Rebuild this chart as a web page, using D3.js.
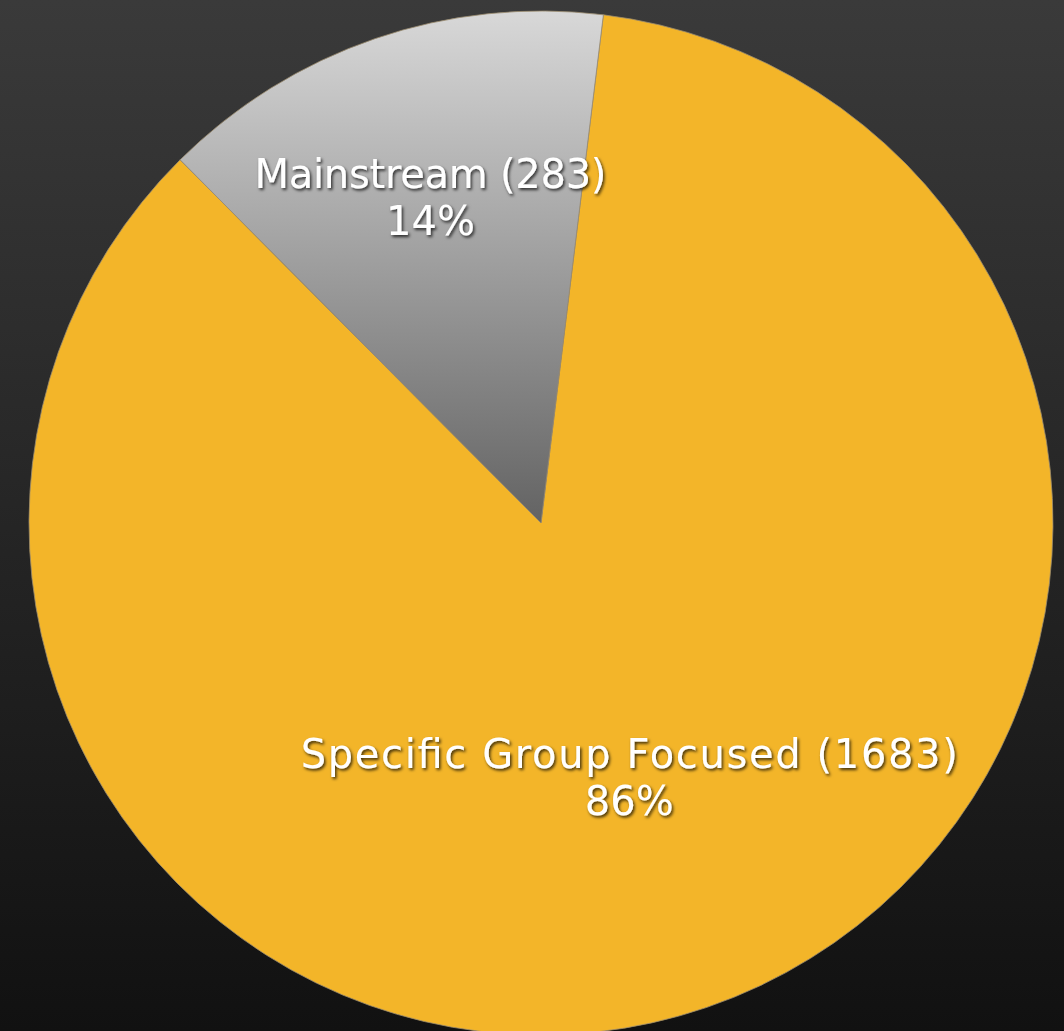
<!DOCTYPE html>
<html>
<head>
<meta charset="utf-8">
<script src="https://cdn.jsdelivr.net/npm/d3@7"></script>
<style>
  html, body { margin: 0; padding: 0; background: #111; overflow: hidden; }
  svg { display: block; }
</style>
</head>
<body>
<svg id="chart" width="1064" height="1031"></svg>
<script>
// Audience split of the titles
const categories = ["Specific Group Focused", "Mainstream"];
const counts = [1683, 283];
const percentLabels = ["86%", "14%"];

const W = 1064, H = 1031;
const cx = 541, cy = 523, radius = 512;

const svg = d3.select("#chart");
const defs = svg.append("defs");

// background: dark vertical gradient
const bg = defs.append("linearGradient").attr("id", "bg")
  .attr("x1", 0).attr("y1", 0).attr("x2", 0).attr("y2", 1);
bg.append("stop").attr("offset", 0).attr("stop-color", "#3a3a3a");
bg.append("stop").attr("offset", 1).attr("stop-color", "#111111");
svg.append("rect").attr("width", W).attr("height", H).attr("fill", "url(#bg)");

// grey slice gradient, light at the rim, dark toward the centre
// (coordinates are in the pie group's space, centre at 0,0)
const grey = defs.append("linearGradient").attr("id", "greyFill")
  .attr("gradientUnits", "userSpaceOnUse")
  .attr("x1", 0).attr("y1", -radius).attr("x2", 0).attr("y2", 0);
grey.append("stop").attr("offset", 0).attr("stop-color", "#d8d8d8");
grey.append("stop").attr("offset", 1).attr("stop-color", "#636363");

// label drop shadow
const f = defs.append("filter").attr("id", "shadow")
  .attr("x", "-10%").attr("y", "-30%").attr("width", "120%").attr("height", "160%");
f.append("feDropShadow").attr("dx", 1.5).attr("dy", 2).attr("stdDeviation", 1.5)
  .attr("flood-color", "#000").attr("flood-opacity", 0.75);

const fills = ["#f3b529", "url(#greyFill)"];
const data = categories.map((c, i) => ({ name: c, value: counts[i], pct: percentLabels[i], fill: fills[i] }));

const pie = d3.pie().value(d => d.value).sort(null)
  .startAngle(7 * Math.PI / 180)
  .endAngle(7 * Math.PI / 180 + 2 * Math.PI);
const arc = d3.arc().innerRadius(0).outerRadius(radius);

const g = svg.append("g").attr("transform", `translate(${cx},${cy})`);
const arcs = pie(data);

g.selectAll("path.slice").data(arcs).join("path")
  .attr("class", "slice")
  .attr("d", arc)
  .attr("fill", d => d.data.fill)
  .attr("stroke", "#9a8c6e")
  .attr("stroke-width", 0.8);

// label anchor distance from the centre, as a share of the radius,
// and the set width of each label's first line
const labelRadius = [0.556, 0.642];
const nameLineWidth = [657, 352];

const labels = g.selectAll("text.lbl").data(arcs).join("text")
  .attr("class", "lbl")
  .attr("font-family", "'DejaVu Sans', sans-serif")
  .attr("font-size", 40)
  .attr("fill", "#ffffff")
  .attr("text-anchor", "middle")
  .attr("filter", "url(#shadow)")
  .attr("transform", (d, i) => {
    const a = (d.startAngle + d.endAngle) / 2;
    const r = radius * labelRadius[i];
    return `translate(${r * Math.sin(a) - 4},${-r * Math.cos(a)})`;
  });
labels.append("tspan").attr("x", 0).attr("y", -24)
  .attr("textLength", (d, i) => nameLineWidth[i])
  .attr("lengthAdjust", "spacing")
  .text(d => `${d.data.name} (${d.data.value})`);
labels.append("tspan").attr("x", 0).attr("y", 23)
  .text(d => d.data.pct);
</script>
</body>
</html>
